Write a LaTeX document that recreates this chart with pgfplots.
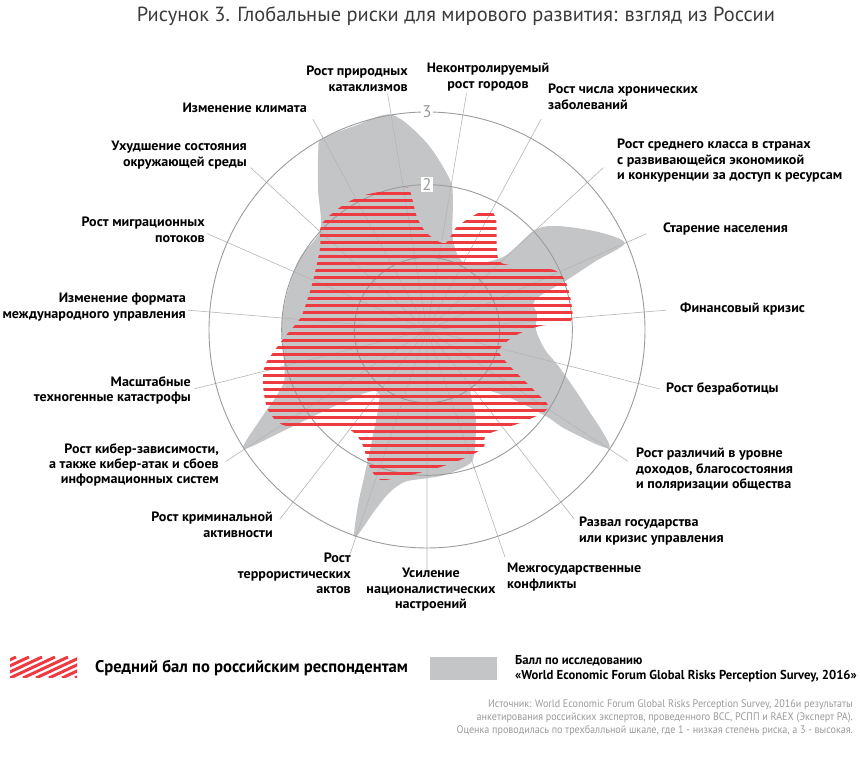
\documentclass[border=0pt]{standalone}
\usepackage{fontspec}
\setmainfont{PT Sans}
\newfontfamily\lblfont{PT Sans}[FakeStretch=1.04]
\newfontfamily\legfont{PT Sans}[FakeStretch=0.98]
\newfontfamily\srcfont{PT Sans}[FakeStretch=0.92]
\usepackage{pgfplots}
\pgfplotsset{compat=1.18}
\usepgfplotslibrary{polar}
\usetikzlibrary{patterns}
\pgfdeclarepatternformonly{redstripes}{\pgfpoint{-1bp}{-1bp}}{\pgfpoint{121bp}{8bp}}{\pgfpoint{120bp}{7bp}}{%
  \pgfpathrectangle{\pgfpoint{-1bp}{0bp}}{\pgfpoint{122bp}{3.4bp}}\pgfusepath{fill}}
\definecolor{wefgray}{HTML}{C4C5C7}
\definecolor{rured}{HTML}{EE3B42}
\definecolor{gridc}{HTML}{9B9B9B}
\definecolor{spokec}{HTML}{B5B5B5}
\definecolor{titlec}{HTML}{3A3A3A}
\definecolor{srcc}{HTML}{9A9A9A}
\begin{document}
\begin{tikzpicture}
\path (0,0) rectangle (860bp,769bp);
\begin{polaraxis}[
  at={(427bp,439bp)}, anchor=center,
  width=479.6bp, height=479.6bp, scale only axis,
  ymin=0, ymax=3.3,
  xtick={80.53,61.58,42.63,23.68,4.74,345.79,326.84,307.89,288.95,270,251.05,232.11,213.16,194.21,175.26,156.32,137.37,118.42,99.47},
  xticklabels={}, ytick={1,2,3}, yticklabels={},
  tick label style={text opacity=0, draw=none, fill=none, font=\tiny},
  xmajorgrids, ymajorgrids,
  x grid style={spokec, line width=0.6bp},
  y grid style={gridc, line width=0.9bp},
  axis line style={draw=none},
  major tick length=0pt,
  clip=false,
  set layers,
]
% WEF survey (grey area)
\addplot[on layer=axis background, fill=wefgray, draw=none, smooth cycle] coordinates {
(99.2,3.0) (90,2.57) (81.3,2.09) (78.7,1.82) (73.9,1.29) (60.4,1.06) (43.8,1.45) (42.8,2.03)
(38,2.32) (29.5,2.73) (23.7,2.97) (22.2,2.51) (19.7,2.05) (15.5,1.54) (7.8,1.53) (0,1.50)
(-9.6,1.65) (-15.9,1.90) (-25.4,2.41) (-32.8,2.99) (-35.5,2.37) (-35.9,2.04) (-39.3,1.48)
(-52.2,1.01) (-61.4,1.41) (-69.4,1.84) (-73.1,1.94) (-82.9,2.01) (-90,2.04) (-98.2,2.11)
(-102.9,2.29) (-106.1,2.58) (-109.2,3.02) (-111.5,2.59) (-113.1,2.21) (-116.6,1.69)
(-128.3,1.09) (-140,1.6) (-144.8,2.39) (-147.1,3.01) (-151.7,2.61) (-155.9,2.29)
(-160.7,2.08) (-172.1,2.0) (176.1,2.0) (163.9,1.99) (150.4,2.01) (136.9,2.01) (127.9,2.44)
(121.2,2.89) (118.7,3.0) (109.1,2.98)
};
% Russian respondents (red striped area)
\addplot[draw=none, pattern=redstripes, pattern color=rured, smooth cycle] coordinates {
(115.4,2.05) (99.6,1.98) (97,1.93) (95.1,1.56) (90,1.33) (78.3,1.22) (73.8,1.48) (65.8,1.78)
(62.3,1.86) (57.9,1.79) (48.8,1.46) (41.8,1.38) (31.5,1.66) (25.1,1.94) (19.1,2.02) (9.8,2.02)
(3.2,1.97) (2.0,1.55) (-3.9,1.21) (-15.5,1.03) (-22.4,1.19) (-29.8,1.74) (-31.8,1.96)
(-35.6,1.96) (-45,1.81) (-60.3,1.66) (-64,1.79) (-71.2,1.83) (-80.3,1.87) (-90,1.94)
(-100.4,2.06) (-107.4,2.16) (-112.4,2.05) (-121.3,1.77) (-130.9,1.76) (-140.1,2.1)
(-146.8,2.38) (-153.3,2.45) (-161.5,2.38) (-167.8,2.28) (-172.5,2.11) (-177.2,1.96)
(174.6,1.75) (166,1.70) (156.3,1.71) (142.2,1.86) (135.3,2.05) (125.3,2.07)
};
\node[fill=white, inner sep=1.5bp, text=gridc, font=\fontsize{17}{17}\selectfont] at (axis cs:90,3) {3};
\node[fill=white, inner sep=1.5bp, text=gridc, font=\fontsize{17}{17}\selectfont] at (axis cs:90,2) {2};
\end{polaraxis}
% legend swatches
\path[path picture={\foreach \k in {-5,...,6} {\draw[rured, line width=3bp]
     ([xshift=\k*13bp]path picture bounding box.south west) --
     ([xshift=\k*13bp+45bp]path picture bounding box.north west);}}] (10bp,91bp) rectangle (77bp,112bp);
\fill[wefgray] (430bp,89bp) rectangle (497bp,112bp);
\begin{scope}[x=1bp, y=-1bp, shift={(0bp,769bp)}]
\tikzset{lbl/.style={font=\lblfont\bfseries\fontsize{13.6}{15.5}\selectfont, inner sep=0pt, text=black}}
\node[font=\fontsize{20.5}{22}\selectfont, text=titlec, inner sep=0pt] at (456,16) {Рисунок 3. Глобальные риски для мирового развития: взгляд из России};
\node[lbl, anchor=north east, align=right] at (408,66) {Рост природных\\катаклизмов};
\node[lbl, anchor=north, align=center] at (488,63) {Неконтролируемый\\рост городов};
\node[lbl, anchor=north west, align=left] at (548,84) {Рост числа хронических\\заболеваний};
\node[lbl, anchor=north west, align=left] at (617,139) {Рост среднего класса в странах\\с развивающейся экономикой\\и конкуренции за доступ к ресурсам};
\node[lbl, anchor=north west] at (663,223) {Старение населения};
\node[lbl, anchor=north west] at (680,303) {Финансовый кризис};
\node[lbl, anchor=north west] at (666,382) {Рост безработицы};
\node[lbl, anchor=north west, align=left] at (636,448) {Рост различий в уровне\\доходов, благосостояния\\и поляризации общества};
\node[lbl, anchor=north west, align=left] at (579,517) {Развал государства\\или кризис управления};
\node[lbl, anchor=north west, align=left] at (507,563) {Межгосударственные\\конфликты};
\node[lbl, anchor=north, align=center] at (431,568) {Усиление\\националистических\\настроений};
\node[lbl, anchor=north east, align=right] at (351,553) {Рост\\террористических\\актов};
\node[lbl, anchor=north east, align=right] at (273,512) {Рост криминальной\\активности};
\node[lbl, anchor=north east, align=right] at (219,443) {Рост кибер-зависимости,\\а также кибер-атак и сбоев\\информационных систем};
\node[lbl, anchor=north east, align=right] at (191,376) {Масштабные\\техногенные катастрофы};
\node[lbl, anchor=north east, align=right] at (186,293) {Изменение формата\\международного управления};
\node[lbl, anchor=north east, align=right] at (205,217) {Рост миграционных\\потоков};
\node[lbl, anchor=north east, align=right] at (247,141) {Ухудшение состояния\\окружающей среды};
\node[lbl, anchor=north east] at (307,103) {Изменение климата};
% legend texts
\node[anchor=west, inner sep=0pt, font=\legfont\bfseries\fontsize{17}{19}\selectfont] at (95,668) {Средний бал по российским респондентам};
\node[anchor=north west, inner sep=0pt, align=left, font=\legfont\bfseries\fontsize{13}{15.5}\selectfont] at (515,655) {Балл по исследованию\\«World Economic Forum Global Risks Perception Survey, 2016»};
% source
\node[anchor=north east, inner sep=0pt, align=right, text=srcc, font=\srcfont\fontsize{11}{13}\selectfont] at (853,700) {Источник: World Economic Forum Global Risks Perception Survey, 2016и результаты\\анкетирования российских экспертов, проведенного ВСС, РСПП и RAEX (Эксперт РА).\\Оценка проводилась по трехбалльной шкале, где 1 - низкая степень риска, а 3 - высокая.};
\end{scope}
\end{tikzpicture}
\end{document}
